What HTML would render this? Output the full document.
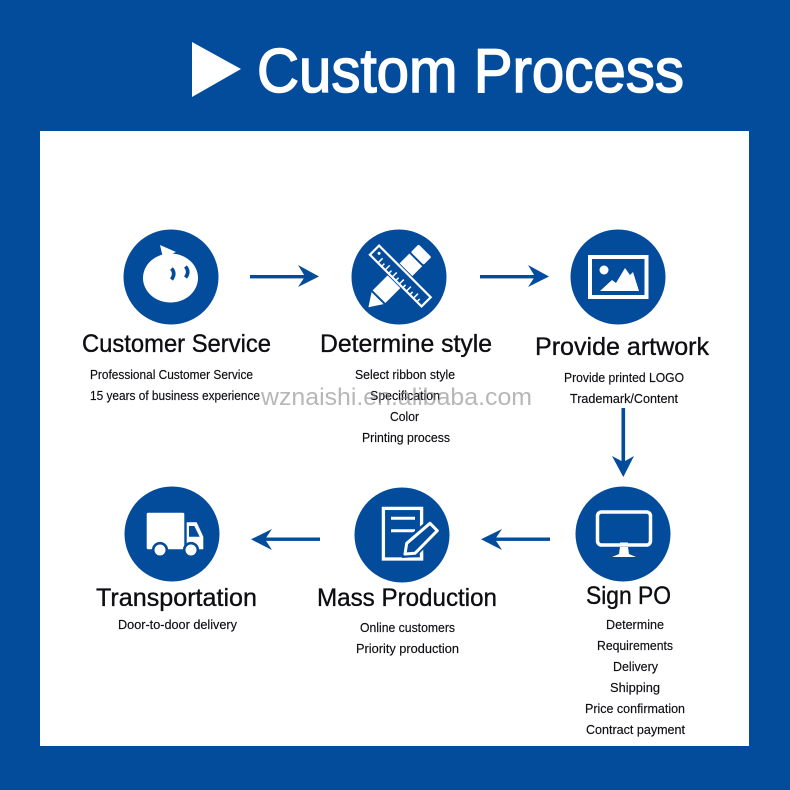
<!DOCTYPE html>
<html><head><meta charset="utf-8"><title>Custom Process</title>
<style>
html,body{margin:0;padding:0;background:#034b9b}
svg{display:block;filter:blur(.35px)}
text{font-family:"Liberation Sans",Arial,sans-serif;fill:#0d0d12}
.h{font-size:25px;stroke:#0d0d12;stroke-width:.35px}
.s{font-size:12.5px;stroke:#0d0d12;stroke-width:.15px}
</style></head><body>
<svg width="790" height="790" viewBox="0 0 790 790" xmlns="http://www.w3.org/2000/svg">
<rect width="790" height="790" fill="#034b9b"/>
<rect x="40" y="131" width="709" height="615" fill="#fff"/>
<polygon points="192,42 241,69 192,97" fill="#fff"/>
<text x="257" y="92" style="font-size:62px;fill:#fff;stroke:#fff;stroke-width:1.5px" textLength="427" lengthAdjust="spacingAndGlyphs">Custom Process</text>

<g fill="#034b9b">
<circle cx="171" cy="277" r="47.5"/><circle cx="399" cy="277" r="47.5"/><circle cx="618" cy="277" r="47.5"/>
<circle cx="172" cy="534" r="47.5"/><circle cx="402" cy="535" r="47.5"/><circle cx="623" cy="534" r="47.5"/>
</g>

<!-- arrows -->
<g fill="#034b9b">
<rect x="250" y="275" width="55" height="3.4"/><polygon points="298,265 319,276.5 298,287 305,276.5"/>
<rect x="480" y="275" width="55" height="3.4"/><polygon points="528,265 549,276.5 528,287 535,276.5"/>
<rect x="621.5" y="408" width="3.6" height="56"/><polygon points="612,456 623.3,477 634,456 623.3,462"/>
<rect x="265" y="537.5" width="55" height="3.4"/><polygon points="272,529 251,539.3 272,550 265,539.3"/>
<rect x="495" y="537.5" width="55" height="3.4"/><polygon points="502,529 481,539.3 502,550 495,539.3"/>
</g>

<!-- chat face -->
<ellipse cx="170.5" cy="278" rx="27.5" ry="24.5" fill="#fff"/>
<polygon points="160,245 176,252 163,258" fill="#fff"/>
<path d="M171.5 268.500q4.500 5 0 11M185.500 266.500q4.500 5.500 0 11" stroke="#034b9b" stroke-width="3.600" fill="none"/>

<!-- pencil -->
<g transform="translate(396.700,279) rotate(-45)" fill="#fff">
<polygon points="-40,0 -27,-8.500 -27,8.500"/>
<rect x="-25" y="-9" width="52" height="18"/>
<rect x="29" y="-9" width="11" height="18" rx="1.500"/>
</g>
<!-- ruler -->
<g transform="translate(400.300,276) rotate(45)">
<rect x="-37.500" y="-8.500" width="75" height="17" fill="#034b9b"/>
<rect x="-36.500" y="-6.500" width="73" height="13" fill="#034b9b" stroke="#fff" stroke-width="2.200"/>
<circle cx="-31" cy="-1" r="1.500" fill="#fff"/>
<path d="M-25 6v-6M-20 6v-3.500M-15 6v-6M-10 6v-3.500M-5 6v-6M0 6v-3.500M5 6v-6M10 6v-3.500M15 6v-6M20 6v-3.500M25 6v-6M30 6v-3.500" stroke="#fff" stroke-width="1.500"/>
</g>

<!-- picture -->
<rect x="590" y="257" width="56.500" height="40" fill="none" stroke="#fff" stroke-width="4"/>
<circle cx="604" cy="270" r="4.500" fill="#fff"/>
<polygon points="600,291 612,280 616,283 625,268 630,275 633,272 639,291" fill="#fff"/>

<!-- truck -->
<rect x="146.700" y="512.700" width="37.600" height="36.600" rx="1.500" fill="#fff"/>
<path d="M186.700 522.300H196.700L203.300 536.700V549.300H186.700z" fill="#fff"/>
<polygon points="189,526 194.300,526 199.700,536.700 189,536.700" fill="#034b9b"/>
<circle cx="160" cy="550" r="6.800" fill="#fff" stroke="#034b9b" stroke-width="2.600"/>
<circle cx="191" cy="550" r="6.800" fill="#fff" stroke="#034b9b" stroke-width="2.600"/>

<!-- document -->
<rect x="383.400" y="508.400" width="38.200" height="50.600" fill="none" stroke="#fff" stroke-width="3.300"/>
<path d="M391 518.300h24M391 530.700h24" stroke="#fff" stroke-width="3"/>
<polygon points="402,558 403,541 430,518 442,530.700 416,557" fill="#034b9b"/>
<path d="M405 554L406.700 543.300L430 523.300L437.300 530.700L415 553.300z" fill="#034b9b" stroke="#fff" stroke-width="3" stroke-linejoin="round"/>
<path d="M421.500 559V553" stroke="#fff" stroke-width="3.300"/>

<!-- monitor -->
<rect x="597.500" y="512" width="53" height="33" rx="4" fill="none" stroke="#fff" stroke-width="3.500"/>
<rect x="620" y="542.500" width="8" height="2" fill="#fff"/>
<polygon points="620,547 628,547 629,554 636,557 612,557 619,554" fill="#fff"/>

<!-- headings -->
<text class="h" x="82" y="352" textLength="189" lengthAdjust="spacingAndGlyphs">Customer Service</text>
<text class="h" x="320" y="352" textLength="172" lengthAdjust="spacingAndGlyphs">Determine style</text>
<text class="h" x="535" y="355" textLength="174" lengthAdjust="spacingAndGlyphs">Provide artwork</text>
<text class="h" x="96" y="606" textLength="161" lengthAdjust="spacingAndGlyphs">Transportation</text>
<text class="h" x="317" y="606" textLength="180" lengthAdjust="spacingAndGlyphs">Mass Production</text>
<text class="h" x="586" y="604" textLength="85" lengthAdjust="spacingAndGlyphs">Sign PO</text>

<!-- small -->
<text class="s" x="90" y="379" textLength="163" lengthAdjust="spacingAndGlyphs">Professional Customer Service</text>
<text class="s" x="90" y="400" textLength="170" lengthAdjust="spacingAndGlyphs">15 years of business experience</text>
<text class="s" x="355" y="379" textLength="100" lengthAdjust="spacingAndGlyphs">Select ribbon style</text>
<text class="s" x="370" y="400" textLength="70" lengthAdjust="spacingAndGlyphs">Specification</text>
<text class="s" x="390" y="421" textLength="29" lengthAdjust="spacingAndGlyphs">Color</text>
<text class="s" x="362" y="442" textLength="88" lengthAdjust="spacingAndGlyphs">Printing process</text>
<text class="s" x="564" y="382" textLength="120" lengthAdjust="spacingAndGlyphs">Provide printed LOGO</text>
<text class="s" x="570" y="403" textLength="108" lengthAdjust="spacingAndGlyphs">Trademark/Content</text>
<text class="s" x="118" y="629" textLength="119" lengthAdjust="spacingAndGlyphs">Door-to-door delivery</text>
<text class="s" x="360" y="632" textLength="95" lengthAdjust="spacingAndGlyphs">Online customers</text>
<text class="s" x="356" y="653" textLength="103" lengthAdjust="spacingAndGlyphs">Priority production</text>
<text class="s" x="606" y="629" textLength="58" lengthAdjust="spacingAndGlyphs">Determine</text>
<text class="s" x="597" y="650" textLength="76" lengthAdjust="spacingAndGlyphs">Requirements</text>
<text class="s" x="613" y="671" textLength="45" lengthAdjust="spacingAndGlyphs">Delivery</text>
<text class="s" x="610" y="692" textLength="50" lengthAdjust="spacingAndGlyphs">Shipping</text>
<text class="s" x="585" y="713" textLength="100" lengthAdjust="spacingAndGlyphs">Price confirmation</text>
<text class="s" x="586" y="734" textLength="99" lengthAdjust="spacingAndGlyphs">Contract payment</text>

<!-- watermark -->
<text x="261" y="405" style="font-size:24.500px;fill:#8a8a8a;fill-opacity:.62" textLength="271" lengthAdjust="spacingAndGlyphs">wznaishi.en.alibaba.com</text>
</svg>
</body></html>
